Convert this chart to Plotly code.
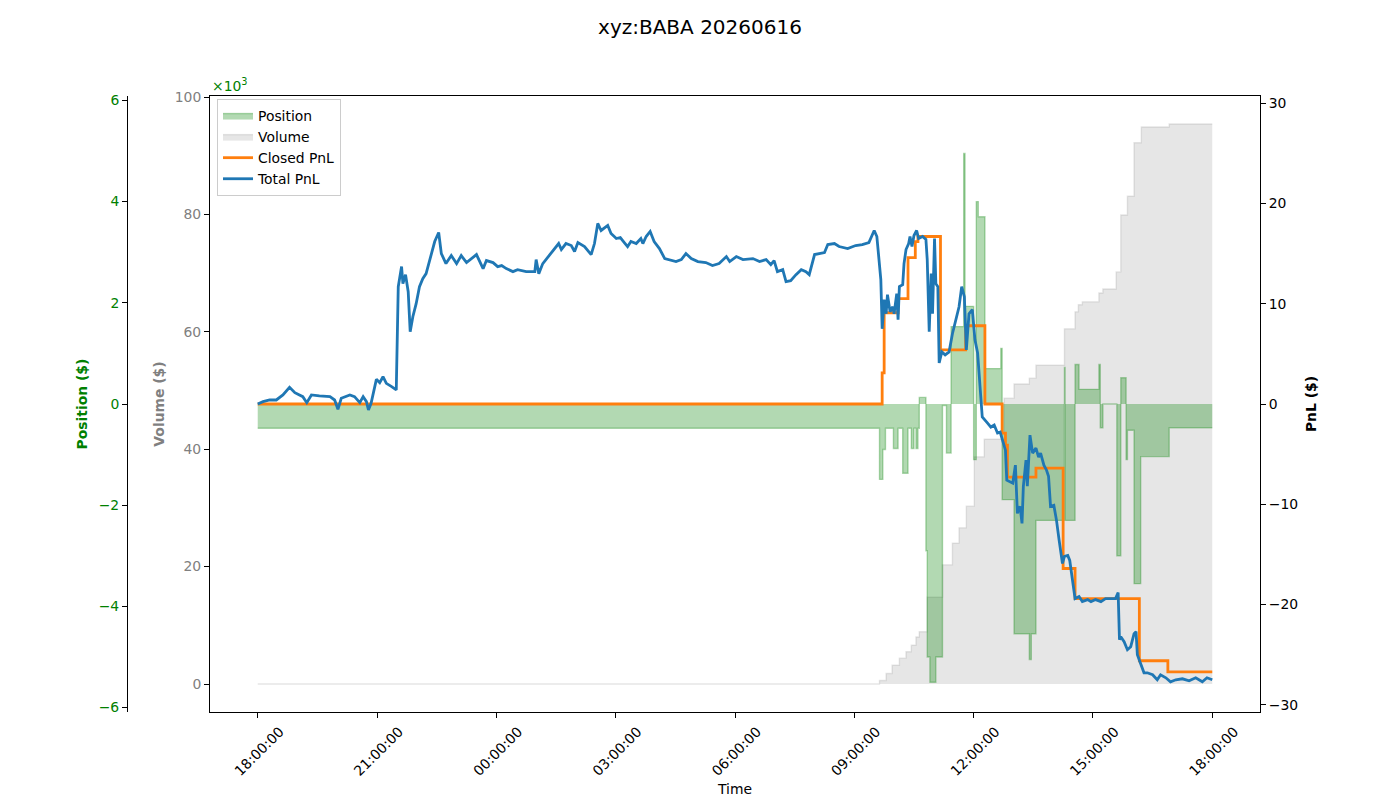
import pandas as pd
import plotly.graph_objects as go

SESSION_START = pd.Timestamp("2026-06-15 18:00:00")

# ---------------- data (time = minutes since session open 18:00) ----------------
total_t = [0, 8, 18, 28, 38, 48, 56, 68, 74, 81, 93, 109, 116, 121, 126, 139, 146, 154, 159, 164,
           167, 171, 179, 184, 189, 194, 202, 209, 212, 217, 219, 223, 227, 230, 234, 239, 244, 249,
           254, 259, 267, 273, 277, 284, 292, 300, 307, 315, 330, 340, 345, 355, 362, 368, 375, 385,
           392, 405, 418, 420, 424, 430, 438, 445, 454, 458, 465, 473, 478, 483, 493, 503, 508, 513,
           518, 528, 533, 541, 547, 553, 558, 563, 571, 578, 581, 586, 592, 598, 606, 614, 621, 631,
           639, 646, 654, 664, 676, 686, 696, 707, 712, 722, 732, 747, 757, 767, 774, 779, 784, 792,
           797, 804, 812, 820, 827, 832, 840, 847, 855, 860, 870, 877, 890, 902, 912, 922, 930, 934,
           935, 940, 942, 945, 948, 950, 954, 958, 960, 964, 966, 968, 973, 975, 978, 982, 984, 987,
           990, 994, 997, 1003, 1008, 1010, 1013, 1016, 1018, 1021, 1023, 1026, 1028, 1032, 1037,
           1043, 1048, 1053, 1058, 1062, 1066, 1069, 1073, 1078, 1082, 1086, 1089, 1093, 1101, 1106,
           1111, 1116, 1120, 1124, 1128, 1130, 1134, 1139, 1143, 1146, 1150, 1153, 1155, 1159, 1161,
           1165, 1169, 1174, 1178, 1181, 1186, 1190, 1193, 1196, 1201, 1205, 1209, 1214, 1217, 1222,
           1225, 1229, 1233, 1239, 1244, 1252, 1257, 1264, 1272, 1279, 1294, 1298, 1300, 1302, 1307,
           1312, 1317, 1322, 1325, 1327, 1332, 1337, 1342, 1350, 1357, 1362, 1370, 1377, 1385, 1395,
           1405, 1415, 1425, 1432, 1440]
total_pnl = [0.0, 0.23, 0.4, 0.4, 0.9, 1.66, 1.13, 0.73, 0.13, 0.9, 0.8, 0.73, 0.4, -0.53, 0.57, 0.9,
             0.73, 0.13, 0.73, 0.23, -0.6, 0.07, 2.46, 2.12, 2.72, 2.06, 1.73, 1.4, 11.7, 13.7, 12.0,
             12.9, 11.2, 7.2, 8.7, 10.0, 11.7, 12.5, 13.0, 14.2, 16.2, 17.1, 15.0, 14.0, 14.8, 14.0,
             14.8, 14.1, 14.9, 13.5, 14.3, 14.1, 13.7, 13.8, 13.5, 13.2, 13.4, 13.2, 13.2, 14.4, 13.0,
             14.0, 14.7, 15.3, 16.0, 15.4, 16.0, 15.8, 15.2, 16.1, 15.7, 14.9, 16.0, 18.0, 17.3, 17.8,
             17.0, 16.5, 16.6, 16.1, 15.7, 16.2, 16.0, 16.5, 16.0, 16.7, 17.2, 16.2, 15.5, 14.5, 14.4,
             14.2, 14.4, 15.0, 14.5, 14.2, 14.1, 13.8, 14.0, 14.7, 14.2, 14.7, 14.4, 14.5, 14.2, 14.4,
             13.9, 14.3, 13.2, 13.4, 12.2, 12.3, 12.9, 13.4, 13.2, 12.9, 14.9, 15.0, 15.1, 15.9, 16.0,
             15.7, 15.5, 15.8, 15.9, 16.1, 17.3, 16.7, 16.0, 12.4, 7.5, 10.4, 9.0, 10.9, 9.2, 9.7, 9.0,
             11.0, 8.4, 11.7, 11.9, 14.0, 15.4, 16.0, 16.7, 15.7, 16.8, 17.3, 16.5, 16.7, 16.4, 14.4,
             7.2, 13.0, 9.0, 16.5, 12.0, 11.7, 4.1, 5.2, 4.9, 5.2, 7.0, 8.4, 9.7, 11.7, 10.7, 5.4, 9.0,
             9.4, 6.4, 5.1, 2.1, -1.3, -1.9, -2.3, -2.1, -2.9, -2.8, -3.6, -4.6, -7.6, -7.7, -7.9, -6.1,
             -10.9, -10.2, -11.9, -8.2, -5.6, -8.2, -3.1, -4.9, -4.4, -5.3, -4.9, -6.1, -6.6, -7.2,
             -10.2, -10.1, -11.6, -13.6, -15.9, -15.2, -15.1, -15.6, -17.5, -19.4, -19.2, -19.7,
             -19.5, -19.7, -19.5, -19.7, -19.4, -19.4, -18.8, -23.5, -23.2, -23.7, -24.5, -24.2,
             -22.9, -22.7, -25.0, -25.9, -26.8, -26.8, -27.0, -27.5, -27.0, -27.3, -27.7, -27.5,
             -27.4, -27.6, -27.3, -27.7, -27.3, -27.5]

closed_t = [0, 942, 945, 966, 981, 992, 996, 1030, 1068, 1097, 1123, 1128, 1131, 1174, 1215, 1233,
            1330, 1373, 1440]
closed_pnl = [0.0, 3.1, 9.1, 10.5, 14.6, 16.2, 16.7, 5.4, 7.8, 0.0, -2.9, -4.1, -7.3, -6.4, -16.4,
              -19.4, -25.6, -26.7, -26.7]

volume_t = [0, 938, 948, 957, 968, 978, 986, 993, 998, 1010, 1033, 1048, 1058, 1069, 1081, 1096,
            1126, 1141, 1164, 1174, 1217, 1233, 1238, 1244, 1269, 1275, 1295, 1302, 1312, 1322, 1333,
            1375, 1440]
volume_usd = [0, 600, 1800, 3200, 4400, 5500, 6600, 8000, 8900, 14800, 20300, 24000, 26600, 30300,
              38700, 41700, 48700, 51100, 52100, 54300, 60500, 63400, 64600, 65100, 66600, 67300,
              70200, 79900, 83100, 92200, 94900, 95400, 95400]

position_t = [0, 938, 943, 947, 959, 966, 973, 981, 986, 990, 993, 996, 998, 1008, 1010, 1014, 1023,
              1033, 1039, 1046, 1065, 1067, 1080, 1084, 1087, 1097, 1121, 1123, 1141, 1164, 1167,
              1174, 1217, 1218, 1233, 1239, 1269, 1271, 1275, 1296, 1302, 1310, 1312, 1322, 1332,
              1375, 1440]
position_usd = [-480, -1490, -900, -480, -880, -480, -1370, -480, -880, -480, -880, -480, 130, -2900,
                -5000, -5500, -5000, -30, -970, 1530, 4950, 1930, -1100, 4000, 3700, 700, 1100, -1890,
                -4540, -5050, -4540, -2300, 720, -2300, 780, 290, 780, -470, 0, -3000, 520, -1100,
                -520, -3550, -1040, -470, -470]

pos_ticks = [-6000, -4000, -2000, 0, 2000, 4000, 6000]
pos_ticktext = ["\u22126", "\u22124", "\u22122", "0", "2", "4", "6"]
vol_ticks = [0, 20000, 40000, 60000, 80000, 100000]
vol_ticktext = ["0", "20", "40", "60", "80", "100"]
pnl_ticks = [-30, -20, -10, 0, 10, 20, 30]


def to_time(minutes):
    return SESSION_START + pd.to_timedelta(minutes, unit="m")


FONT = "DejaVu Sans"
FS = 13.9

fig = go.Figure()

fig.add_trace(go.Scatter(
    x=to_time(volume_t), y=volume_usd, name="Volume", yaxis="y",
    mode="lines", line=dict(shape="hv", color="rgba(128,128,128,0.2)", width=1.4),
    fill="tozeroy", fillcolor="rgba(128,128,128,0.2)", legendrank=2))

fig.add_trace(go.Scatter(
    x=to_time(position_t), y=position_usd, name="Position", yaxis="y2",
    mode="lines", line=dict(shape="hv", color="rgba(0,128,0,0.3)", width=1.4),
    fill="tozeroy", fillcolor="rgba(0,128,0,0.3)", legendrank=1))

fig.add_trace(go.Scatter(
    x=to_time(closed_t), y=closed_pnl, name="Closed PnL", yaxis="y3",
    mode="lines", line=dict(shape="hv", color="#ff7f0e", width=2.8), legendrank=3))

fig.add_trace(go.Scatter(
    x=to_time(total_t), y=total_pnl, name="Total PnL", yaxis="y3",
    mode="lines", line=dict(color="#1f77b4", width=2.8), legendrank=4))

x_start = SESSION_START - pd.Timedelta(minutes=72)
x_end = SESSION_START + pd.Timedelta(minutes=1440 + 72)

fig.update_layout(
    width=1400, height=800,
    margin=dict(l=0, r=0, t=0, b=0, autoexpand=False),
    paper_bgcolor="white", plot_bgcolor="white",
    font=dict(family=FONT, size=FS, color="black"),
    title=dict(text="xyz:BABA 20260616", x=0.5, xref="paper", xanchor="center",
               y=1 - 27 / 800, yref="container", yanchor="middle",
               font=dict(size=20, color="black")),
    showlegend=True,
    legend=dict(x=217 / 1400, y=1 - 99 / 800, xref="paper", yref="paper",
                xanchor="left", yanchor="top", bgcolor="rgba(255,255,255,0.8)",
                bordercolor="#cccccc", borderwidth=1, font=dict(size=FS), tracegroupgap=0),
    xaxis=dict(
        domain=[210 / 1400, 1260 / 1400], range=[x_start, x_end], type="date",
        tick0=SESSION_START, dtick=3 * 3600 * 1000, tickformat="%H:%M:%S",
        tickangle=-45, ticks="outside", ticklen=5, tickcolor="black",
        showline=True, linecolor="black", linewidth=1, mirror=True,
        showgrid=False, zeroline=False, ticklabelshift=22, automargin=False,
        title=dict(text="Time", font=dict(size=FS), standoff=6),
    ),
    yaxis=dict(
        domain=[1 - 712 / 800, 1 - 96 / 800], range=[-4770, 100170],
        tickvals=vol_ticks, ticktext=vol_ticktext, tickfont=dict(color="gray"),
        ticks="outside", ticklen=5, tickcolor="black", automargin=False,
        showline=True, linecolor="black", linewidth=1, showgrid=False, zeroline=False,
        title=dict(text="<b>Volume ($)</b>", font=dict(color="gray", size=FS), standoff=6),
    ),
    yaxis2=dict(
        overlaying="y", anchor="free", position=127 / 1400, side="left",
        range=[-6087, 6087], tickvals=pos_ticks, ticktext=pos_ticktext, automargin=False,
        tickfont=dict(color="green"), ticks="outside", ticklen=5, tickcolor="black",
        showline=True, linecolor="black", linewidth=1, showgrid=False, zeroline=False,
        title=dict(text="<b>Position ($)</b>", font=dict(color="green", size=FS), standoff=6),
    ),
    yaxis3=dict(
        overlaying="y", anchor="x", side="right", automargin=False,
        range=[-30.71, 30.71], tickvals=pnl_ticks,
        ticks="outside", ticklen=5, tickcolor="black",
        showline=True, linecolor="black", linewidth=1, showgrid=False, zeroline=False,
        title=dict(text="<b>PnL ($)</b>", font=dict(color="black", size=FS), standoff=9),
    ),
    annotations=[dict(text="\u00d710<sup>3</sup>", x=210 / 1400, y=1 - 96 / 800,
                      xref="paper", yref="paper", xanchor="left", yanchor="bottom",
                      showarrow=False, font=dict(color="green", size=FS))],
)

fig.write_html("out.html")
